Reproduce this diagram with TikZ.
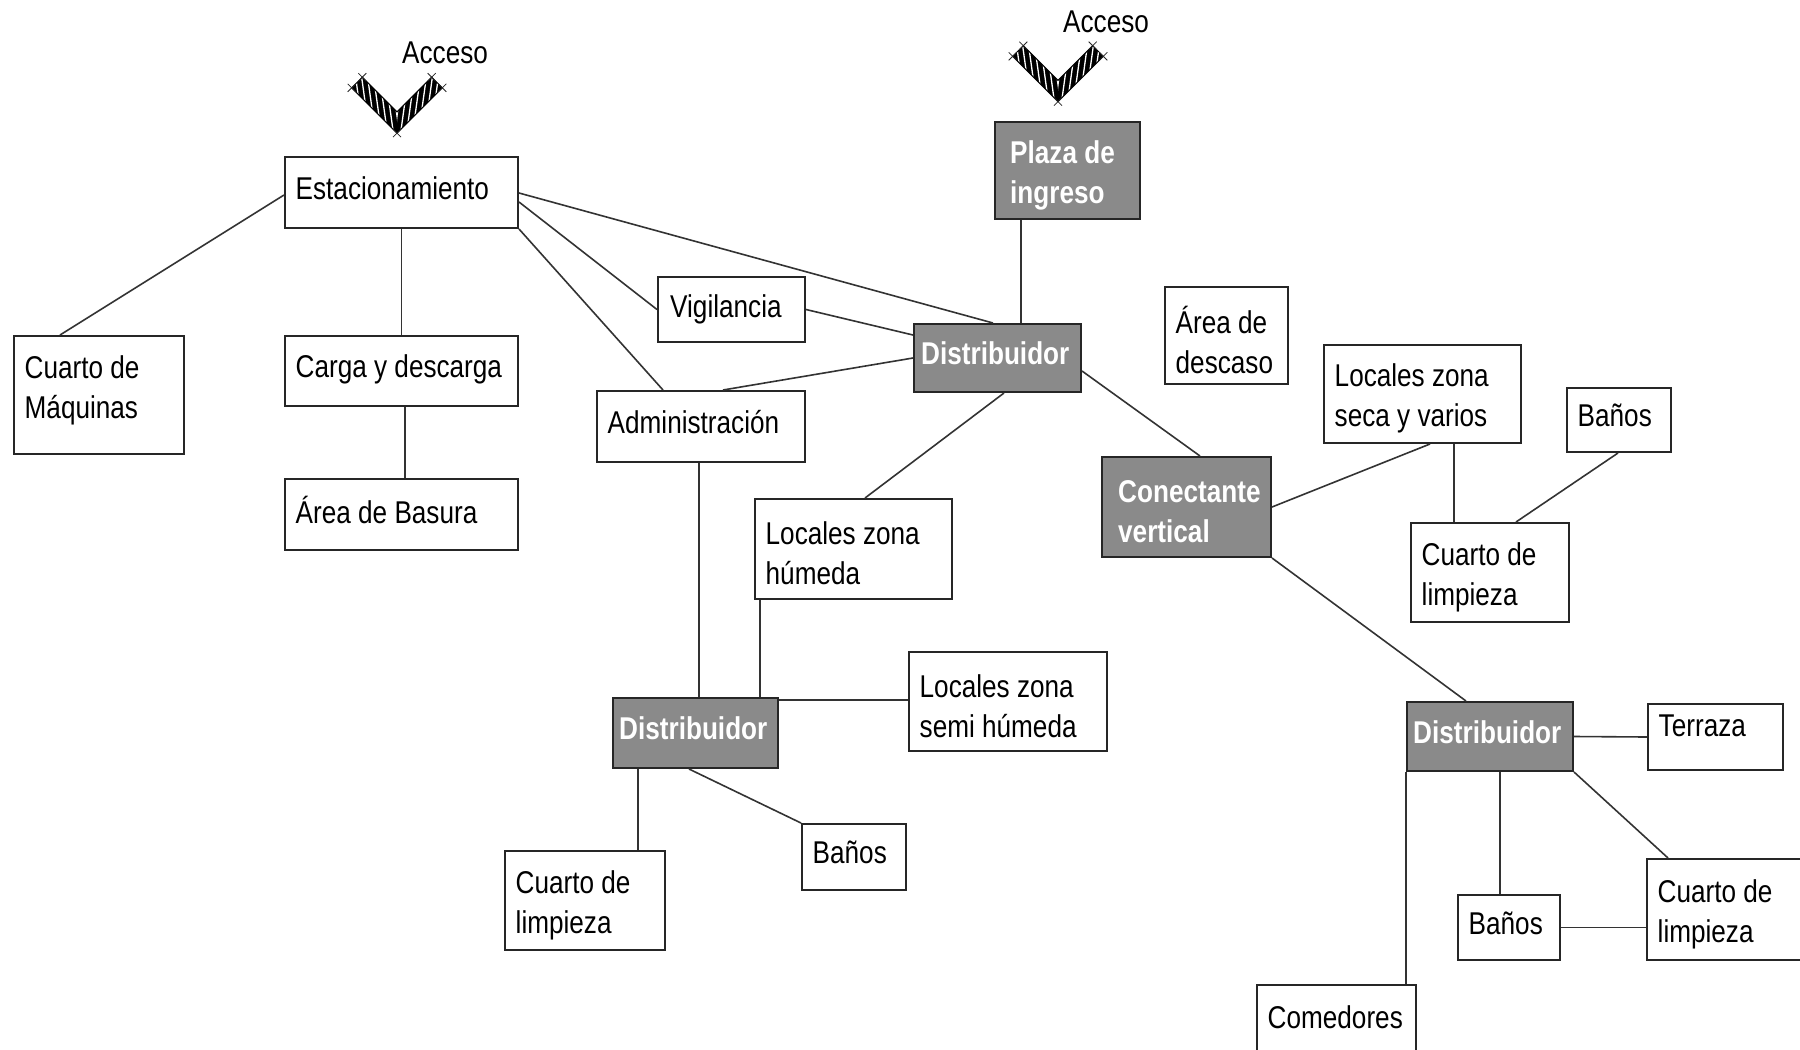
\documentclass[tikz,border=0pt]{standalone}
\usepackage{fontspec}
\setmainfont{Liberation Sans}[FakeStretch=0.83]
\usetikzlibrary{positioning}
\definecolor{ink}{HTML}{262626}
\definecolor{wire}{HTML}{333333}
\definecolor{hallgray}{HTML}{8A8A8A}

\begin{document}
\begin{tikzpicture}[x=1pt,y=-1pt,
  room/.style={rectangle,draw=ink,line width=2pt,fill=white,inner sep=0pt,anchor=north west},
  hall/.style={room,fill=hallgray},
  roomtxt/.style={inner sep=0pt,align=left,text=black,font=\fontsize{31.5pt}{40pt}\selectfont},
  halltxt/.style={roomtxt,text=white,font=\fontsize{31.5pt}{40pt}\selectfont\bfseries},
  oneline/.style={text height=22.5pt,text depth=9pt},
  twoline/.style={yshift=-4.5pt},
  link/.style={draw=wire,line width=1.6pt},
  hatch/.style={white,line width=1.3pt},
  tick/.style={draw=ink,line width=0.8pt}]
\useasboundingbox (0,0) rectangle (1800,1050);
\fill[white] (0,0) rectangle (1800,1050);
\clip (0,0) rectangle (1800,1050);

% access marks
\foreach \vx/\vy in {397/122.5,1058/91}{
  \begin{scope}[shift={(\vx,\vy)}]
    \begin{scope}
      \clip (-45.3,-34.7) -- (0,10.6) -- (45.3,-34.7) -- (34.7,-45.3) -- (0,-10.6) -- (-34.7,-45.3) -- cycle;
      \fill[black] (-50,-50) rectangle (50,15);
      \begin{scope}
        \clip (-50,-50) rectangle (0,15);
        \foreach \s in {-60,-54,...,0} \draw[hatch] (\s,-50) -- ++(9,65);
      \end{scope}
      \begin{scope}
        \clip (0,-50) rectangle (50,15);
        \foreach \s in {0,6,...,60} \draw[hatch] (\s,-50) -- ++(-9,65);
      \end{scope}
    \end{scope}
    \draw[black,line width=1pt] (-45.3,-34.7) -- (0,10.6) -- (45.3,-34.7) -- (34.7,-45.3) -- (0,-10.6) -- (-34.7,-45.3) -- cycle;
    \foreach \cx/\cy in {-45.3/-34.7,-34.7/-45.3,0/10.6,34.7/-45.3,45.3/-34.7}
      \draw[tick] (\cx-4,\cy-4) -- (\cx+4,\cy+4) (\cx-4,\cy+4) -- (\cx+4,\cy-4);
  \end{scope}
}
\node[roomtxt,anchor=base west] (acc1) at (402,63) {Acceso};
\node[roomtxt,anchor=base west] (acc2) at (1063,32) {Acceso};

% left block
\node[room,minimum width=233pt,minimum height=71pt] (estac) at (284,156) {};
\node[roomtxt,oneline,right=11.5pt of estac.west] (estac-t) {Estacionamiento};
\node[room,minimum width=170pt,minimum height=118pt] (maq) at (13,335) {};
\node[roomtxt,right=11.5pt of maq.west,yshift=5pt] (maq-t) {Cuarto de\\Máquinas};
\node[room,minimum width=233pt,minimum height=70pt] (carga) at (284,335) {};
\node[roomtxt,oneline,right=11.5pt of carga.west] (carga-t) {Carga y descarga};
\node[room,minimum width=233pt,minimum height=71pt] (basura) at (284,478) {};
\node[roomtxt,oneline,right=11.5pt of basura.west,yshift=-2pt] (basura-t) {Área de Basura};

% centre block
\node[room,minimum width=147pt,minimum height=65pt] (vigil) at (657,276) {};
\node[roomtxt,oneline,right=13pt of vigil.west,yshift=-1pt] (vigil-t) {Vigilancia};
\node[room,minimum width=208pt,minimum height=71pt] (admin) at (596,390) {};
\node[roomtxt,oneline,right=11.5pt of admin.west] (admin-t) {Administración};
\node[hall,minimum width=145pt,minimum height=97pt] (plaza) at (994,121) {};
\node[halltxt,twoline,right=16pt of plaza.west] (plaza-t) {Plaza de\\ingreso};
\node[hall,minimum width=167pt,minimum height=68pt] (dist1) at (913,323) {};
\node[halltxt,oneline,right=8pt of dist1.west] (dist1-t) {Distribuidor};
\node[room,minimum width=197pt,minimum height=100pt] (humeda) at (754,498) {};
\node[roomtxt,twoline,right=11.5pt of humeda.west] (humeda-t) {Locales zona\\húmeda};
\node[hall,minimum width=165pt,minimum height=70pt] (dist2) at (612,697) {};
\node[halltxt,oneline,right=7pt of dist2.west] (dist2-t) {Distribuidor};
\node[room,minimum width=198pt,minimum height=99pt] (semih) at (908,651) {};
\node[roomtxt,twoline,right=11.5pt of semih.west] (semih-t) {Locales zona\\semi húmeda};
\node[room,minimum width=104pt,minimum height=66pt] (banosB) at (801,823) {};
\node[roomtxt,oneline,right=11.5pt of banosB.west] (banosB-t) {Baños};
\node[room,minimum width=160pt,minimum height=99pt] (limpB) at (504,850) {};
\node[roomtxt,twoline,right=11.5pt of limpB.west] (limpB-t) {Cuarto de\\limpieza};

% right block
\node[room,minimum width=123pt,minimum height=97pt] (descanso) at (1164,286) {};
\node[roomtxt,twoline,right=11.5pt of descanso.west] (descanso-t) {Área de\\descaso};
\node[room,minimum width=197pt,minimum height=98pt] (seca) at (1323,344) {};
\node[roomtxt,twoline,right=11.5pt of seca.west] (seca-t) {Locales zona\\seca y varios};
\node[room,minimum width=104pt,minimum height=64pt] (banosA) at (1566,387) {};
\node[roomtxt,oneline,right=11.5pt of banosA.west] (banosA-t) {Baños};
\node[hall,minimum width=169pt,minimum height=100pt] (conect) at (1101,456) {};
\node[halltxt,twoline,right=17pt of conect.west] (conect-t) {Conectante\\vertical};
\node[room,minimum width=158pt,minimum height=99pt] (limpA) at (1410,522) {};
\node[roomtxt,twoline,right=11.5pt of limpA.west] (limpA-t) {Cuarto de\\limpieza};
\node[hall,minimum width=166pt,minimum height=69pt] (dist3) at (1406,701) {};
\node[halltxt,oneline,right=7pt of dist3.west] (dist3-t) {Distribuidor};
\node[room,minimum width=135pt,minimum height=66pt] (terraza) at (1647,703) {};
\node[roomtxt,oneline,right=11.5pt of terraza.west,yshift=7pt] (terraza-t) {Terraza};
\node[room,minimum width=102pt,minimum height=65pt] (banosC) at (1457,894) {};
\node[roomtxt,oneline,right=11.5pt of banosC.west] (banosC-t) {Baños};
\node[room,minimum width=160pt,minimum height=101pt] (limpC) at (1646,858) {};
\node[roomtxt,twoline,right=11.5pt of limpC.west] (limpC-t) {Cuarto de\\limpieza};
\node[room,minimum width=159pt,minimum height=68pt] (comedor) at (1256,984) {};
\node[roomtxt,oneline,right=11.5pt of comedor.west,yshift=-3pt] (comedor-t) {Comedores};

% links
\draw[link] ([yshift=-39pt]estac.north west) -- ([xshift=47pt]maq.north west);
\draw[link] (estac.south) -- (carga.north);
\draw[link] ([xshift=121pt]carga.south west) -- ([xshift=121pt]basura.north west);
\draw[link] ([yshift=-37pt]estac.north east) -- ([xshift=80pt]dist1.north west);
\draw[link] ([yshift=-46pt]estac.north east) -- (vigil.west);
\draw[link] (estac.south east) -- ([xshift=67pt]admin.north west);
\draw[link] (vigil.east) -- ([yshift=-12pt]dist1.north west);
\draw[link] ([xshift=127pt]admin.north west) -- (dist1.west);
\draw[link] ([xshift=27pt]plaza.south west) -- ([xshift=108pt]dist1.north west);
\draw[link] ([xshift=91pt]dist1.south west) -- ([xshift=111pt]humeda.north west);
\draw[link] ([yshift=-48pt]dist1.north east) -- ([xshift=99pt]conect.north west);
\draw[link] (conect.east) -- ([xshift=107pt]seca.south west);
\draw[link] ([xshift=131pt]seca.south west) -- ([xshift=44pt]limpA.north west);
\draw[link] ([xshift=52pt]banosA.south west) -- ([xshift=106pt]limpA.north west);
\draw[link] (conect.south east) -- ([xshift=60pt]dist3.north west);
\draw[link] ([xshift=103pt]admin.south west) -- ([xshift=87pt]dist2.north west);
\draw[link] ([xshift=6pt]humeda.south west) -- ([xshift=148pt]dist2.north west);
\draw[link] ([yshift=-3pt]dist2.north east) -- ([yshift=-49pt]semih.north west);
\draw[link] ([xshift=26pt]dist2.south west) -- ([xshift=134pt]limpB.north west);
\draw[link] ([xshift=77pt]dist2.south west) -- (banosB.north west);
\draw[link] (dist3.east) -- (terraza.west);
\draw[link] ([xshift=94pt]dist3.south west) -- ([xshift=43pt]banosC.north west);
\draw[link] (dist3.south east) -- ([xshift=22pt]limpC.north west);
\draw[link] (dist3.south west) -- (dist3.south west |- comedor.north);
\draw[link] (banosC.east) -- (banosC.east -| limpC.west);
\end{tikzpicture}
\end{document}
